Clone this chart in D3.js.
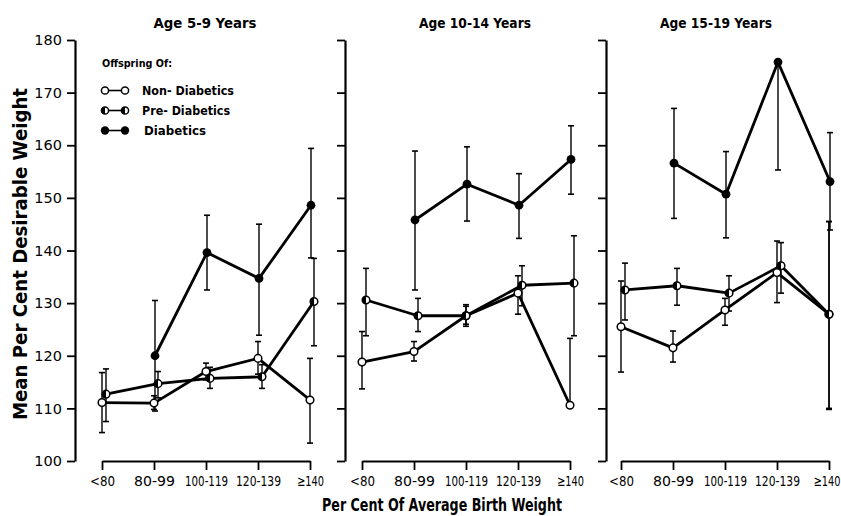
<!DOCTYPE html>
<html><head><meta charset="utf-8">
<script src="https://cdn.jsdelivr.net/npm/d3@7"></script>
<style>body{margin:0;background:#fff} svg{display:block}</style>
</head><body><svg id="c" width="841" height="516"></svg>
<script>
const categories = ["<80","80-99","100-119","120-139","≥140"];
const panelTitles = ["Age 5-9 Years","Age 10-14 Years","Age 15-19 Years"];
const yTicks = [100,110,120,130,140,150,160,170,180];
const groupNames = ["Non-Diabetics","Pre-Diabetics","Diabetics"];
const legendTitle = "Offspring Of:";
const xTitle = "Per Cent Of Average Birth Weight";
const yTitle = "Mean Per Cent Desirable Weight";

// per panel: [5-9, 10-14, 15-19]
const nonMean = [[111.1,111.0,117.0,119.5,111.6],[118.8,120.8,127.6,131.9,110.6],[125.5,121.5,128.7,135.8,127.9]];
const nonLow  = [[105.4,109.8,115.4,116.5,103.4],[113.7,119.0,126.0,127.9,null],[116.9,118.8,125.8,130.1,109.8]];
const nonHigh = [[116.8,112.4,118.6,122.7,119.5],[124.6,122.7,129.4,135.2,123.3],[134.2,124.7,130.9,141.8,145.5]];

const preMean = [[112.7,114.7,115.7,116.0,130.3],[130.6,127.6,127.6,133.4,133.8],[132.5,133.3,131.9,137.1,127.9]];
const preLow  = [[107.5,112.0,113.8,113.8,121.9],[123.8,124.6,125.6,129.5,123.8],[126.8,129.6,128.5,131.9,110.0]];
const preHigh = [[117.5,117.0,117.8,118.3,138.5],[136.6,130.9,129.7,137.1,142.8],[137.6,136.6,135.2,141.5,145.5]];

const diaMean = [[null,120.0,139.6,134.7,148.6],[null,145.8,152.6,148.6,157.3],[null,156.6,150.7,175.8,153.1]];
const diaLow  = [[null,109.5,132.5,123.9,138.6],[null,132.5,145.6,142.3,150.7],[null,146.1,142.4,155.3,143.9]];
const diaHigh = [[null,130.5,146.7,145.0,159.4],[null,158.9,159.7,154.6,163.7],[null,167.0,158.8,null,162.4]];

const svg = d3.select("#c");
const FONT = "'DejaVu Sans', Arial, sans-serif";
const y = d3.scaleLinear().domain([100,180]).range([461,40]);
const panelX0 = [102, 362, 621];
const yAxisX = [75, 345, 606];
const titleX = [205, 475, 716];
const markerOffset = [0, 4, 1];
const tickLabelLen = {"<80":25, "80-99":41, "100-119":43, "120-139":45, "≥140":27};

const groups = [
  {mean: nonMean, low: nonLow, high: nonHigh, kind: "open"},
  {mean: preMean, low: preLow, high: preHigh, kind: "half"},
  {mean: diaMean, low: diaLow, high: diaHigh, kind: "filled"}
];

function drawMarker(g, cx, cy, kind, r) {
  if (kind === "filled") {
    g.append("circle").attr("cx",cx).attr("cy",cy).attr("r",r+0.6).attr("fill","#000");
  } else {
    g.append("circle").attr("cx",cx).attr("cy",cy).attr("r",r).attr("fill","#fff").attr("stroke","#000").attr("stroke-width",1.5);
    if (kind === "half") {
      g.append("path")
        .attr("d", `M${cx},${cy-r} A${r},${r} 0 0 0 ${cx},${cy+r} Z`)
        .attr("fill","#000");
    }
  }
}

panelTitles.forEach((title, p) => {
  const x = d3.scalePoint().domain(categories).range([panelX0[p], panelX0[p]+208]);
  const g = svg.append("g");

  // y axis
  const ya = g.append("g").attr("transform",`translate(${yAxisX[p]},0)`)
    .call(d3.axisLeft(y).tickValues(yTicks).tickSize(8).tickSizeOuter(0).tickPadding(5)
      .tickFormat(p === 0 ? d3.format("d") : () => ""));
  ya.select(".domain").attr("stroke","#000").attr("stroke-width",2.2);
  ya.selectAll(".tick line").attr("stroke","#000").attr("stroke-width",1.8);
  ya.selectAll(".tick text").attr("font-family",FONT).attr("font-size",14.5).attr("fill","#000");

  // x axis
  const xa = g.append("g").attr("transform",`translate(0,461)`)
    .call(d3.axisBottom(x).tickSize(9).tickSizeOuter(0).tickPadding(6));
  xa.select(".domain").attr("stroke","#000").attr("stroke-width",1.8);
  xa.selectAll(".tick line").attr("stroke","#000").attr("stroke-width",1.8);
  xa.selectAll(".tick text").attr("font-family",FONT).attr("font-size",14.5).attr("fill","#000")
    .each(function(d) {
      const nat = this.getComputedTextLength();
      const sx = tickLabelLen[d] / nat;
      const shift = (p === 2 && d === "≥140") ? -2.5 : 0;
      d3.select(this).attr("transform", `translate(${shift},0) scale(${sx},1)`);
    });

  // panel title
  g.append("text").attr("x",titleX[p]).attr("y",28).attr("text-anchor","middle")
    .attr("font-family",FONT).attr("font-size",14).attr("font-weight","bold").attr("fill","#000")
    .attr("textLength", p === 0 ? 103 : 112).attr("lengthAdjust","spacingAndGlyphs")
    .text(title);

  groups.forEach((grp, gi) => {
    const pts = categories.map((c, i) => {
      let off = markerOffset[gi];
      // coincident non/pre points share one position
      if (gi === 1 && grp.mean[p][i] === nonMean[p][i]) off = markerOffset[0];
      return {x: x(c) + off, m: grp.mean[p][i], lo: grp.low[p][i], hi: grp.high[p][i]};
    });
    const line = d3.line().defined(d => d.m != null).x(d => d.x).y(d => y(d.m));
    g.append("path").datum(pts).attr("d", line)
      .attr("fill","none").attr("stroke","#000").attr("stroke-width",2.8).attr("stroke-linejoin","round");
    grp.pts = pts;
  });

  groups.forEach(grp => {
    grp.pts.filter(d => d.m != null).forEach(d => {
      const top = d.hi != null ? d.hi : d.m;
      const bot = d.lo != null ? d.lo : d.m;
      g.append("line").attr("x1",d.x).attr("x2",d.x).attr("y1",y(top)).attr("y2",y(bot))
        .attr("stroke","#000").attr("stroke-width",1.4);
      if (d.hi != null) g.append("line").attr("x1",d.x-3).attr("x2",d.x+3).attr("y1",y(d.hi)).attr("y2",y(d.hi)).attr("stroke","#000").attr("stroke-width",1.6);
      if (d.lo != null) g.append("line").attr("x1",d.x-3).attr("x2",d.x+3).attr("y1",y(d.lo)).attr("y2",y(d.lo)).attr("stroke","#000").attr("stroke-width",1.6);
    });
  });

  groups.forEach(grp => {
    grp.pts.filter(d => d.m != null).forEach(d => drawMarker(g, d.x, y(d.m), grp.kind, 3.8));
  });
});

// legend
const lg = svg.append("g");
lg.append("text").attr("x",102).attr("y",67).attr("font-family",FONT).attr("font-size",10.5)
  .attr("font-weight","bold").attr("fill","#000").attr("textLength",70).attr("lengthAdjust","spacingAndGlyphs").text(legendTitle);
const legY = [90.5, 110.5, 130.5];
const legKinds = ["open","half","filled"];
const legLabels = ["Non- Diabetics","Pre- Diabetics","Diabetics"];
const legLen = [92, 88, 62];
groupNames.forEach((n, i) => {
  lg.append("line").attr("x1",105).attr("x2",125).attr("y1",legY[i]).attr("y2",legY[i])
    .attr("stroke","#000").attr("stroke-width",1.6);
  drawMarker(lg, 105, legY[i], legKinds[i], 3.6);
  drawMarker(lg, 125, legY[i], legKinds[i], 3.6);
  lg.append("text").attr("x", i === 2 ? 144 : 142).attr("y",legY[i]+4.5).attr("font-family",FONT)
    .attr("font-size",12).attr("font-weight","bold").attr("fill","#000")
    .attr("textLength",legLen[i]).attr("lengthAdjust","spacingAndGlyphs").text(legLabels[i]);
});

// axis titles
svg.append("text").attr("x",442).attr("y",511).attr("text-anchor","middle")
  .attr("font-family",FONT).attr("font-size",18).attr("font-weight","bold").attr("fill","#000")
  .attr("textLength",240).attr("lengthAdjust","spacingAndGlyphs").text(xTitle);
svg.append("text").attr("transform","translate(27,254) rotate(-90)").attr("text-anchor","middle")
  .attr("font-family",FONT).attr("font-size",19).attr("font-weight","bold").attr("fill","#000")
  .attr("textLength",332).attr("lengthAdjust","spacingAndGlyphs").text(yTitle);
</script>
</body></html>
